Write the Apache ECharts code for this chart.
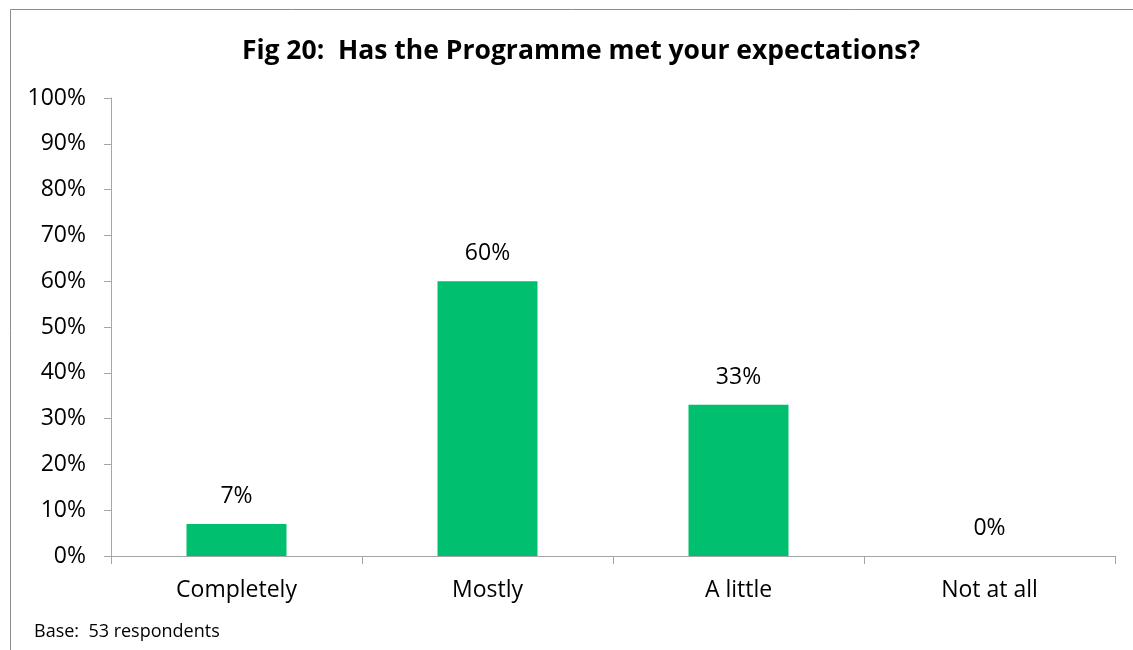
<!DOCTYPE html>
<html>
<head>
<meta charset="utf-8">
<script src="https://cdn.jsdelivr.net/npm/echarts@6/dist/echarts.min.js"></script>
<style>
  html, body { margin: 0; padding: 0; background: #fff; }
  #chart { width: 1133px; height: 650px; }
</style>
</head>
<body>
<div id="chart"></div>
<script>
// Survey responses: share of respondents per answer
const categories = ['Completely', 'Mostly', 'A little', 'Not at all'];
const shares = [7, 60, 33, 0];
const yTicks = [0, 10, 20, 30, 40, 50, 60, 70, 80, 90, 100];

const FONT = '"Open Sans", "Liberation Sans", sans-serif';
const chart = echarts.init(document.getElementById('chart'), null, { renderer: 'canvas' });

chart.setOption({
  backgroundColor: '#ffffff',
  animation: false,
  title: {
    text: 'Fig 20:  Has the Programme met your expectations?',
    left: 576,
    top: 33,
    textAlign: 'center',
    textStyle: { fontFamily: FONT, fontWeight: 'bold', fontSize: 26.5, color: '#000' }
  },
  graphic: [
    {
      type: 'rect',
      shape: { x: 10.5, y: 9.5, width: 1200, height: 700 },
      style: { fill: 'none', stroke: '#8c8c8c', lineWidth: 1 },
      silent: true
    },
    {
      type: 'text',
      left: 34,
      top: 623,
      style: { text: 'Base:  53 respondents', font: '18px ' + FONT, fill: '#000' }
    }
  ],
  grid: { left: 111, right: 18, top: 98, bottom: 94, containLabel: false },
  xAxis: {
    type: 'category',
    data: categories,
    axisLine: { show: true, lineStyle: { color: '#a6a6a6', width: 1 } },
    axisTick: { show: true, alignWithLabel: false, length: 8, lineStyle: { color: '#a6a6a6' } },
    axisLabel: { fontFamily: FONT, fontSize: 23, color: '#000', margin: 23 },
    splitLine: { show: false }
  },
  yAxis: {
    type: 'value',
    min: yTicks[0],
    max: yTicks[yTicks.length - 1],
    interval: 10,
    axisLine: { show: true, lineStyle: { color: '#a6a6a6', width: 1 } },
    axisTick: { show: true, length: 7, lineStyle: { color: '#a6a6a6' } },
    axisLabel: { fontFamily: FONT, fontSize: 23, color: '#000', margin: 25, formatter: '{value}%' },
    splitLine: { show: false }
  },
  series: [{
    type: 'bar',
    data: shares,
    barWidth: 100,
    itemStyle: { color: '#00bf6f' },
    label: {
      show: true,
      position: 'top',
      distance: 16,
      formatter: p => p.value + '%',
      fontFamily: FONT,
      fontSize: 23,
      color: '#000'
    }
  }]
});
</script>
</body>
</html>
